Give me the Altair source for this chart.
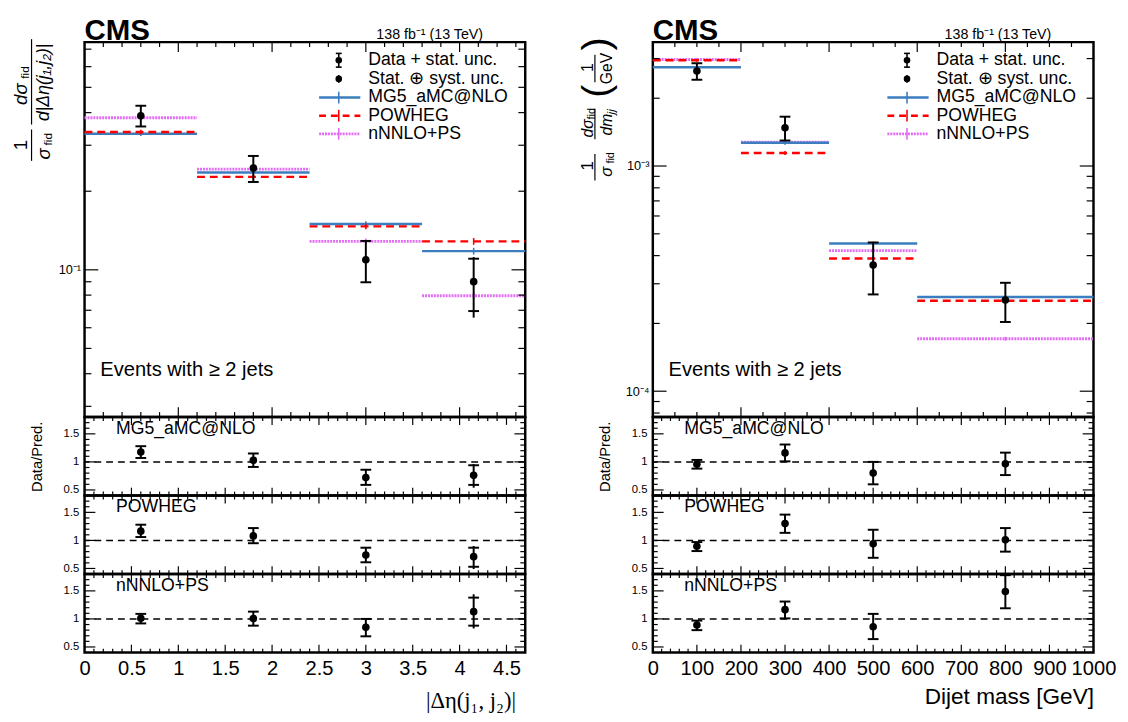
import altair as alt
import pandas as pd

FONT = "Liberation Sans"
SERIF = "Liberation Serif"
BLUE = "#3b7dbf"
RED = "#ff0000"
VIOLET = "#e36cf5"

W = 449
H_MAIN = 382
H_RAT = 80

# ---------------- |Δη(j1, j2)| distribution ----------------
deta_lo = [0.0, 1.2, 2.4, 3.6]
deta_hi = [1.2, 2.4, 3.6, 4.7]
deta_center = [0.6, 1.8, 3.0, 4.15]
deta_data = [0.389, 0.2455, 0.1093, 0.0901]
deta_stat_hi = [0.425, 0.273, 0.129, 0.1103]
deta_stat_lo = [0.354, 0.217, 0.0896, 0.0695]
deta_tot_hi = [0.425, 0.273, 0.129, 0.1119]
deta_tot_lo = [0.354, 0.217, 0.0896, 0.0656]
deta_mg5 = [0.332, 0.236, 0.1498, 0.1179]
deta_powheg = [0.337, 0.227, 0.1467, 0.1285]
deta_nnnlo = [0.382, 0.243, 0.1285, 0.0796]
deta_pred_unc = [0.02, 0.02, 0.025, 0.03]

deta_ratio_val = {"MG5_aMC@NLO": [1.176, 1.03, 0.72, 0.76],
                  "POWHEG": [1.165, 1.08, 0.74, 0.71],
                  "nNNLO+PS": [1.01, 1.006, 0.85, 1.13]}
deta_ratio_stat_hi = {"MG5_aMC@NLO": [1.28, 1.15, 0.86, 0.94],
                      "POWHEG": [1.28, 1.22, 0.87, 0.87],
                      "nNNLO+PS": [1.09, 1.13, 1.0, 1.38]}
deta_ratio_stat_lo = {"MG5_aMC@NLO": [1.07, 0.91, 0.59, 0.59],
                      "POWHEG": [1.06, 0.95, 0.61, 0.53],
                      "nNNLO+PS": [0.92, 0.88, 0.69, 0.88]}
deta_ratio_tot_hi = {"MG5_aMC@NLO": [1.28, 1.15, 0.86, 0.96],
                     "POWHEG": [1.28, 1.22, 0.87, 0.90],
                     "nNNLO+PS": [1.09, 1.13, 1.0, 1.44]}
deta_ratio_tot_lo = {"MG5_aMC@NLO": [1.07, 0.91, 0.59, 0.54],
                     "POWHEG": [1.06, 0.95, 0.61, 0.49],
                     "nNNLO+PS": [0.92, 0.88, 0.69, 0.83]}

# ---------------- dijet mass distribution ----------------
mjj_lo = [0, 200, 400, 600]
mjj_hi = [200, 400, 600, 1000]
mjj_center = [100, 300, 500, 800]
mjj_data = [2.643e-3, 1.478e-3, 3.63e-4, 2.54e-4]
mjj_stat_hi = [2.86e-3, 1.656e-3, 4.575e-4, 3.03e-4]
mjj_stat_lo = [2.416e-3, 1.298e-3, 2.69e-4, 2.03e-4]
mjj_tot_hi = [2.86e-3, 1.656e-3, 4.575e-4, 3.03e-4]
mjj_tot_lo = [2.416e-3, 1.298e-3, 2.69e-4, 2.03e-4]
mjj_mg5 = [2.744e-3, 1.268e-3, 4.53e-4, 2.62e-4]
mjj_powheg = [2.95e-3, 1.143e-3, 3.886e-4, 2.52e-4]
mjj_nnnlo = [2.97e-3, 1.276e-3, 4.21e-4, 1.709e-4]
mjj_pred_unc = [0.015, 0.02, 0.02, 0.02]

mjj_ratio_val = {"MG5_aMC@NLO": [0.96, 1.16, 0.80, 0.965],
                 "POWHEG": [0.894, 1.30, 0.94, 1.01],
                 "nNNLO+PS": [0.89, 1.165, 0.86, 1.49]}
mjj_ratio_hi = {"MG5_aMC@NLO": [1.035, 1.31, 1.0, 1.165],
                "POWHEG": [0.97, 1.46, 1.19, 1.22],
                "nNNLO+PS": [0.97, 1.31, 1.09, 1.78]}
mjj_ratio_lo = {"MG5_aMC@NLO": [0.88, 1.01, 0.60, 0.765],
                "POWHEG": [0.81, 1.135, 0.69, 0.80],
                "nNNLO+PS": [0.80, 1.01, 0.64, 1.19]}

PRED_NAMES = ["MG5_aMC@NLO", "POWHEG", "nNNLO+PS"]
LEGEND_LABELS = ["Data + stat. unc.", "Stat. \u2295 syst. unc.", "MG5_aMC@NLO", "POWHEG", "nNNLO+PS"]

ONE = pd.DataFrame({"k": [0]})


# ---------------- helpers ----------------
def txt(s, x, y, size=17.5, align="left", baseline="middle", angle=0,
        font=FONT, style="normal", weight="normal"):
    return alt.Chart(pd.DataFrame({"s": [s]})).mark_text(
        align=align, baseline=baseline, fontSize=size, font=font,
        fontStyle=style, fontWeight=weight, angle=angle, color="black"
    ).encode(x=alt.value(x), y=alt.value(y), text="s:N")


def seg(x1, y1, x2, y2, color="black", width=1.5, dash=None):
    kw = dict(color=color, strokeWidth=width)
    if dash:
        kw["strokeDash"] = dash
    return alt.Chart(ONE).mark_rule(**kw).encode(
        x=alt.value(x1), x2=alt.value(x2), y=alt.value(y1), y2=alt.value(y2))


def dot(x, y, size=45):
    return alt.Chart(ONE).mark_circle(size=size, color="black", opacity=1).encode(
        x=alt.value(x), y=alt.value(y))


def tick_layers(xs, xax, ys, yax, h, xmaj, xmin, ymaj, ymin, xlen, ylen):
    out = []
    for vals, ln in ((xmaj, xlen[0]), (xmin, xlen[1])):
        d = pd.DataFrame({"t": vals})
        X = alt.X("t:Q", scale=xs, axis=xax)
        out.append(alt.Chart(d).mark_rule(color="black", strokeWidth=1.2).encode(
            x=X, y=alt.value(0), y2=alt.value(ln)))
        out.append(alt.Chart(d).mark_rule(color="black", strokeWidth=1.2).encode(
            x=X, y=alt.value(h - ln), y2=alt.value(h)))
    for vals, ln in ((ymaj, ylen[0]), (ymin, ylen[1])):
        d = pd.DataFrame({"t": vals})
        Y = alt.Y("t:Q", scale=ys, axis=yax)
        out.append(alt.Chart(d).mark_rule(color="black", strokeWidth=1.2).encode(
            y=Y, x=alt.value(0), x2=alt.value(ln)))
        out.append(alt.Chart(d).mark_rule(color="black", strokeWidth=1.2).encode(
            y=Y, x=alt.value(W - ln), x2=alt.value(W)))
    return out


def legend_layers():
    L = []
    xm, x1, x2, xt = 259, 239, 281, 289
    rows = [18.5, 37.5, 56.5, 75, 93.5]
    r = rows[0]
    L += [seg(xm, r - 7, xm, r + 7, width=1.6), seg(xm - 3, r - 7, xm + 3, r - 7, width=1.6),
          seg(xm - 3, r + 7, xm + 3, r + 7, width=1.6), dot(xm, r)]
    r = rows[1]
    L += [seg(xm, r - 4, xm, r + 4, width=1.6), dot(xm, r)]
    for r, col, dash, w in zip(rows[2:], [BLUE, RED, VIOLET], [None, [7, 5], [2, 1]], [2.5, 2.5, 3]):
        L += [seg(x1, r, x2, r, color=col, width=w, dash=dash),
              seg(xm, r - 6, xm, r + 6, color=col, width=1.6)]
    for r, lab in zip(rows, LEGEND_LABELS):
        L.append(txt(lab, xt, r, size=18))
    return L


def main_panel(lo, hi, xc, data, shi, slo, thi, tlo, mg5, powheg, nnnlo, unc,
               xdom, ydom, yvals, ylabexpr, xmaj, xmin, ymaj, ymin, title_layers):
    df = pd.DataFrame(dict(lo=lo, hi=hi, xc=xc, data=data, shi=shi, slo=slo,
                           thi=thi, tlo=tlo, mg5=mg5, powheg=powheg, nnnlo=nnnlo, unc=unc))
    xs = alt.Scale(domain=xdom, nice=False, zero=False)
    ys = alt.Scale(type="log", domain=ydom, nice=False)
    yax = alt.Axis(values=yvals, labelExpr=ylabexpr, ticks=False, domain=False, grid=False,
                   title=None, labelFont=FONT, labelFontSize=13, labelPadding=4)
    X = lambda f: alt.X(f, type="quantitative", scale=xs, axis=None)
    Y = lambda f: alt.Y(f, type="quantitative", scale=ys, axis=yax)
    base = alt.Chart(df)
    layers = []
    for col, field, dash, w in ((VIOLET, "nnnlo", [2, 1], 3), (BLUE, "mg5", None, 2.5),
                                (RED, "powheg", [8, 5], 2.5)):
        kw = dict(color=col, strokeWidth=w)
        if dash:
            kw["strokeDash"] = dash
        layers.append(base.mark_rule(**kw).encode(x=X("lo"), x2=alt.X2("hi"), y=Y(field)))
        layers.append(base.transform_calculate(
            u_hi=f"datum.{field}*(1+datum.unc)", u_lo=f"datum.{field}*(1-datum.unc)"
        ).mark_rule(color=col, strokeWidth=1.6).encode(x=X("xc"), y=Y("u_lo"), y2=alt.Y2("u_hi")))
    layers.append(base.mark_rule(color="black", strokeWidth=2).encode(
        x=X("xc"), y=Y("tlo"), y2=alt.Y2("thi")))
    for f in ("shi", "slo"):
        layers.append(base.mark_tick(orient="horizontal", size=11, thickness=2, color="black",
                                     opacity=1).encode(x=X("xc"), y=Y(f)))
    layers.append(base.mark_circle(size=60, color="black", opacity=1).encode(
        x=X("xc"), y=Y("data")))
    layers += tick_layers(xs, None, ys, yax, H_MAIN, xmaj, xmin, ymaj, ymin, (10, 5), (14, 7))
    layers += legend_layers()
    layers.append(txt("CMS", 0, -2, size=30, baseline="alphabetic", weight="bold"))
    layers.append(txt("138 fb\u207b\u00b9 (13 TeV)", 406, -3, size=14.5, align="right",
                      baseline="alphabetic"))
    layers.append(txt("Events with \u2265 2 jets", 16, 340, size=20.5, baseline="alphabetic"))
    layers += title_layers
    return alt.layer(*layers).properties(width=W, height=H_MAIN)


def ratio_panel(xc, val, shi, slo, thi, tlo, label, xdom, ytitle, xaxis_cfg,
                xmaj, xmin):
    df = pd.DataFrame(dict(xc=xc, val=val, shi=shi, slo=slo, thi=thi, tlo=tlo))
    xs = alt.Scale(domain=xdom, nice=False, zero=False)
    ys = alt.Scale(domain=[0.4, 1.8], nice=False, zero=False)
    ykw = dict(values=[0.5, 1, 1.5], format="~g", ticks=False, domain=False, grid=False,
               labelFont=FONT, labelFontSize=11.5, labelPadding=6, title=ytitle)
    if ytitle:
        ykw.update(titleFont=FONT, titleFontSize=15, titleFontWeight="normal", titlePadding=19)
    yax = alt.Axis(**ykw)
    xax = alt.Axis(**xaxis_cfg) if xaxis_cfg else None
    X = lambda f: alt.X(f, type="quantitative", scale=xs, axis=xax)
    Y = lambda f: alt.Y(f, type="quantitative", scale=ys, axis=yax)
    base = alt.Chart(df)
    layers = [
        alt.Chart(ONE).mark_rule(color="black", strokeWidth=1.5, strokeDash=[7, 5]).encode(
            y=alt.Y(datum=1, type="quantitative", scale=ys, axis=yax)),
        base.mark_rule(color="black", strokeWidth=2).encode(x=X("xc"), y=Y("tlo"), y2=alt.Y2("thi")),
        base.mark_tick(orient="horizontal", size=11, thickness=2, color="black", opacity=1).encode(
            x=X("xc"), y=Y("shi")),
        base.mark_tick(orient="horizontal", size=11, thickness=2, color="black", opacity=1).encode(
            x=X("xc"), y=Y("slo")),
        base.mark_circle(size=60, color="black", opacity=1).encode(x=X("xc"), y=Y("val")),
    ]
    layers += tick_layers(xs, xax, ys, yax, H_RAT, xmaj, xmin, [0.5, 1, 1.5],
                          [round(0.4 + 0.1 * i, 2) for i in range(15) if i not in (1, 6, 11, 0, 14)],
                          (8, 4), (11, 5))
    layers.append(txt(label, 32, 12, size=18))
    return alt.layer(*layers).properties(width=W, height=H_RAT)


# ---------------- axis titles (fractions) ----------------
title_left = [
    txt("1", -65, 105, size=19, angle=270, align="center"),
    seg(-54, 89, -54, 121, width=1.2),
    txt("\u03c3", -41, 114, size=19, angle=270, align="center", style="italic"),
    txt("fid", -37, 99, size=12, angle=270, align="center"),
    txt("d\u03c3", -65, 53, size=19, angle=270, align="center", style="italic"),
    txt("fid", -61, 31, size=12, angle=270, align="center"),
    seg(-54, -3, -54, 84, width=1.2),
    txt("d|\u0394\u03b7(j\u2081,j\u2082)|", -41, 41, size=18, angle=270, align="center",
        style="italic"),
]
title_right = [
    txt("1", -66, 126, size=17, angle=270, align="center"),
    seg(-59, 114, -59, 141, width=1.2),
    txt("\u03c3", -47, 132, size=17, angle=270, align="center", style="italic"),
    txt("fid", -43, 118, size=11, angle=270, align="center"),
    txt("d\u03c3", -66, 88, size=16, angle=270, align="center", style="italic"),
    txt("fid", -62, 73, size=11, angle=270, align="center"),
    seg(-59, 68, -59, 99, width=1.2),
    txt("dm", -47, 84, size=16, angle=270, align="center", style="italic"),
    txt("jj", -43, 71, size=12, angle=270, align="center", style="italic"),
    txt("(", -57, 50, size=40, angle=270, align="center"),
    txt(")", -57, 2, size=40, angle=270, align="center"),
    txt("1", -66, 26, size=16, angle=270, align="center"),
    seg(-59, 13, -59, 41, width=1.2),
    txt("GeV", -47, 27, size=16, angle=270, align="center"),
]

# ---------------- tick positions ----------------
deta_xmaj_main = [1, 2, 3, 4]
deta_xmin_main = [round(0.2 * i, 1) for i in range(1, 24) if i % 5 != 0]
deta_xmaj_rat = [0.5 * i for i in range(1, 10)]
deta_xmin_rat = [round(0.1 * i, 1) for i in range(1, 47) if i % 5 != 0]
mjj_xmaj_main = [200, 400, 600, 800]
mjj_xmin_main = [50 * i for i in range(1, 20) if i % 4 != 0]
mjj_xmaj_rat = [100 * i for i in range(1, 10)]
mjj_xmin_rat = [20 * i for i in range(1, 50) if i % 5 != 0]

deta_ydom = [0.0273, 0.745]
mjj_ydom = [7.68e-5, 3.55e-3]
deta_yminor = [m * 10.0 ** e for e in (-2, -1) for m in range(2, 10)
               if deta_ydom[0] < m * 10.0 ** e < deta_ydom[1]]
mjj_yminor = [m * 10.0 ** e for e in (-5, -4, -3) for m in range(2, 10)
              if mjj_ydom[0] < m * 10.0 ** e < mjj_ydom[1]]

main_left = main_panel(deta_lo, deta_hi, deta_center, deta_data, deta_stat_hi, deta_stat_lo,
                       deta_tot_hi, deta_tot_lo, deta_mg5, deta_powheg, deta_nnnlo, deta_pred_unc,
                       [0, 4.7], deta_ydom, [0.1], "'10\u207b\u00b9'",
                       deta_xmaj_main, deta_xmin_main, [0.1], deta_yminor, title_left)
main_right = main_panel(mjj_lo, mjj_hi, mjj_center, mjj_data, mjj_stat_hi, mjj_stat_lo,
                        mjj_tot_hi, mjj_tot_lo, mjj_mg5, mjj_powheg, mjj_nnnlo, mjj_pred_unc,
                        [0, 1000], mjj_ydom, [1e-4, 1e-3],
                        "datum.value > 0.0005 ? '10\u207b\u00b3' : '10\u207b\u2074'",
                        mjj_xmaj_main, mjj_xmin_main, [1e-4, 1e-3], mjj_yminor, title_right)

xcfg_left = dict(values=[0.5 * i for i in range(10)], format="~g", ticks=False, domain=False,
                 grid=False, labelFont=FONT, labelFontSize=20.5, labelPadding=6, labelFlush=False,
                 labelOverlap=False, title="|\u0394\u03b7(j\u2081, j\u2082)|", titleFont=SERIF,
                 titleFontSize=23, titleFontWeight="normal", titleAnchor="end", titleAlign="right",
                 titleX=439, titleY=49, titleBaseline="middle")
xcfg_right = dict(values=[100 * i for i in range(11)], format="d", ticks=False, domain=False,
                  grid=False, labelFont=FONT, labelFontSize=20.5, labelPadding=6, labelFlush=False,
                  labelOverlap=False, title="Dijet mass [GeV]", titleFont=FONT,
                  titleFontSize=23, titleFontWeight="normal", titleAnchor="end", titleAlign="right",
                  titleX=449, titleY=45, titleBaseline="middle")

left_col = [main_left]
right_col = [main_right]
for i, name in enumerate(PRED_NAMES):
    last = i == 2
    left_col.append(ratio_panel(deta_center, deta_ratio_val[name], deta_ratio_stat_hi[name],
                                deta_ratio_stat_lo[name], deta_ratio_tot_hi[name],
                                deta_ratio_tot_lo[name], name, [0, 4.7],
                                "Data/Pred." if i == 0 else None,
                                xcfg_left if last else None, deta_xmaj_rat, deta_xmin_rat))
    right_col.append(ratio_panel(mjj_center, mjj_ratio_val[name], mjj_ratio_hi[name],
                                 mjj_ratio_lo[name], mjj_ratio_hi[name], mjj_ratio_lo[name],
                                 name, [0, 1000], "Data/Pred." if i == 0 else None,
                                 xcfg_right if last else None, mjj_xmaj_rat, mjj_xmin_rat))

left = alt.vconcat(*left_col, spacing=0, bounds="flush")
right = alt.vconcat(*right_col, spacing=0, bounds="flush")

chart = alt.hconcat(left, right, spacing=48).properties(
    padding={"left": 2, "top": 0, "right": 2, "bottom": 2},
    background="white",
).configure_view(stroke="black", strokeWidth=2.5)

chart.save("out.html", embed_options={"renderer": "svg", "actions": False})
